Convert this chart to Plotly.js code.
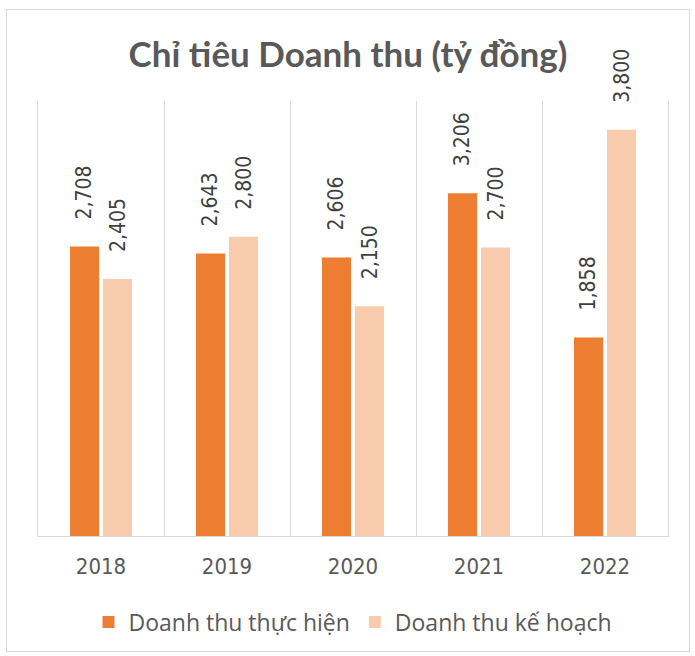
<!DOCTYPE html>
<html>
<head>
<meta charset="utf-8">
<script src="https://cdn.plot.ly/plotly-3.0.1.min.js"></script>
<style>
html,body{margin:0;padding:0;background:#fff;}
#frame{position:absolute;left:6px;top:9px;width:682px;height:641px;border:1px solid #D9D9D9;}
#chart{width:682px;height:641px;}
</style>
</head>
<body>
<div id="frame"><div id="chart"></div></div>
<script>
const years = ['2018', '2019', '2020', '2021', '2022'];
const actual = [2708, 2643, 2606, 3206, 1858];
const plan = [2405, 2800, 2150, 2700, 3800];
const seriesNames = ['Doanh thu thực hiện', 'Doanh thu kế hoạch'];
const TITLEFONT = 'Lato, "Open Sans", sans-serif';
const NARROW = '"Liberation Sans Narrow", "DejaVu Sans Condensed", sans-serif';
const LEGFONT = '"Open Sans", "Noto Sans", sans-serif';
const labelFont = {family: NARROW, size: 21, color: '#404040'};
const PAD = '\u00a0\u00a0\u00a0\u00a0';

const traces = [
  {type: 'bar', name: seriesNames[0], x: years, y: actual,
   marker: {color: '#ED7D31'}, texttemplate: PAD + '%{y:,}', textposition: 'outside',
   textangle: -90, textfont: labelFont, constraintext: 'none', cliponaxis: false, hoverinfo: 'none'},
  {type: 'bar', name: seriesNames[1], x: years, y: plan,
   marker: {color: '#F8CBAD'}, texttemplate: PAD + '%{y:,}', textposition: 'outside',
   textangle: -90, textfont: labelFont, constraintext: 'none', cliponaxis: false, hoverinfo: 'none'}
];

const layout = {
  width: 682, height: 641,
  margin: {l: 31, r: 21, t: 91, b: 115, autoexpand: false},
  paper_bgcolor: '#fff', plot_bgcolor: '#fff',
  font: {family: TITLEFONT, color: '#595959'},
  title: {text: 'Chỉ tiêu Doanh thu (tỷ đồng)', font: {family: TITLEFONT, size: 35, color: '#595959', weight: 'bold'},
          x: 0.5, xanchor: 'center', y: 0.93, yanchor: 'middle'},
  barmode: 'group', bargap: 0.476, bargroupgap: 0.12,
  xaxis: {type: 'category', tickson: 'boundaries', showgrid: true, gridcolor: '#D9D9D9', gridwidth: 1,
          showline: true, linecolor: '#D9D9D9', linewidth: 1, ticks: '',
          tickfont: {family: NARROW, size: 22, color: '#595959'}, ticklabelstandoff: 11},
  yaxis: {range: [0, 4070], showgrid: false, zeroline: false, showticklabels: false,
          showline: true, mirror: true, linecolor: '#D9D9D9', linewidth: 1, ticks: ''},
  legend: {orientation: 'h', x: 0.5, xanchor: 'center', yref: 'container', y: 0.045, yanchor: 'middle',
           font: {family: LEGFONT, size: 23, color: '#595959'}, itemwidth: 30},
  showlegend: true
};
Plotly.newPlot('chart', traces, layout, {displayModeBar: false, staticPlot: true});
</script>
</body>
</html>
